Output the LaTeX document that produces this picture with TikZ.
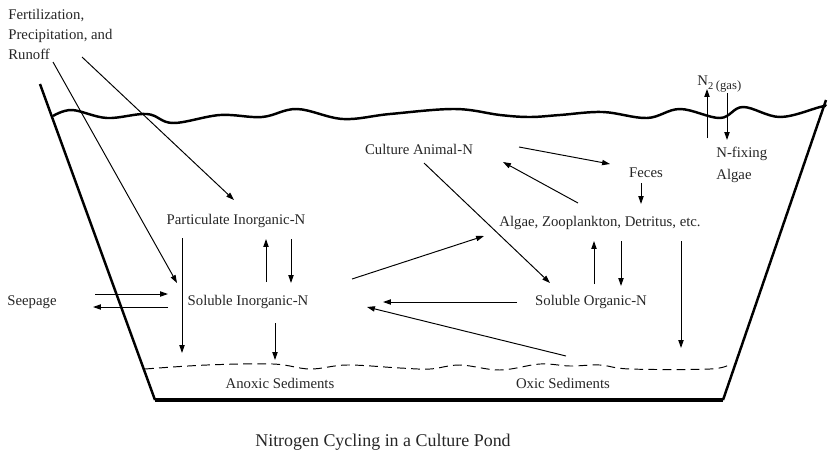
\documentclass[tikz,border=0pt]{standalone}
\usepackage{fontspec}
\setmainfont{Liberation Serif}
\usetikzlibrary{arrows.meta,calc}

\begin{document}
\begin{tikzpicture}[x=0.02cm,y=-0.02cm,
        >={Triangle[length=4.5pt,width=3pt]},
        txt/.style={font=\fontsize{8.4}{11.4}\selectfont, inner sep=0pt, text=black!85},
        flow/.style={->, line width=0.55pt},
        wall/.style={line width=1.4pt},
        sediment/.style={line width=0.55pt, dash pattern=on 5pt off 3pt}]
        \useasboundingbox (0,0) rectangle (828,454);

        % Draw the pond
        \draw[wall] (40,84) -- (155,400);
        \draw[line width=2pt] (155,400) -- (723,400);
        \draw[wall] (723,400) -- (826,100);

        % Water surface
        \draw[wall] plot[smooth, tension=0.6] coordinates {(53,116) (72,110) (107,118) (147,114) (173,123)
            (220,115) (262,117) (297,109) (343,119) (390,114) (455,109) (500,115) (530,117)
            (560,115) (603,112) (647,118) (680,109) (720,118) (743,107) (780,117) (820,107) (826,106)};

        % Sediment surface
        \draw[sediment] plot[smooth, tension=0.6] coordinates {(145,369) (207,365) (273,364) (310,369)
            (347,365) (400,368) (430,369) (460,365) (500,370) (540,364) (570,366) (600,365)
            (630,369) (710,369) (730,364)};

        % Labels
        \node[txt, anchor=west, align=left] (fert) at (8,34) {Fertilization,\\Precipitation, and\\Runoff};
        \node[txt] (partin) at (236,221) {Particulate Inorganic-N};
        \node[txt] (soli) at (248,302) {Soluble Inorganic-N};
        \node[txt] (anox) at (280,383) {Anoxic Sediments};
        \node[txt] (cult) at (419,149) {Culture Animal-N};
        \node[txt] (feces) at (646,173) {Feces};
        \node[txt] (algae) at (600,223) {Algae, Zooplankton, Detritus, etc.};
        \node[txt] (solo) at (591,302) {Soluble Organic-N};
        \node[txt] (oxic) at (563,383) {Oxic Sediments};
        \node[txt] (seep) at (32,302) {Seepage};
        \node[txt, anchor=west, align=left, font=\fontsize{8.4}{12.5}\selectfont] (nfix) at (716,165) {N-fixing\\Algae};
        \node[txt, anchor=west] (ntwo) at (697,84) {N\raisebox{-2.2pt}{\fontsize{6}{7}\selectfont 2 \fontsize{7.2}{8}\selectfont(gas)}};
        \node[font=\fontsize{10.2}{12}\selectfont, inner sep=0pt, text=black!85] (title) at (383,442) {Nitrogen Cycling in a Culture Pond};

        % Inputs and exchange with the outside
        \draw[flow] ($(fert.west)+(45,28)$) -- ($(soli)+(-71,-19)$);
        \draw[flow] ($(fert.west)+(74,23)$) -- ($(partin)+(-2,-21)$);
        \draw[flow] ($(seep)+(63,-8)$) -- ($(soli)+(-80,-8)$);
        \draw[flow] ($(soli)+(-80,5)$) -- ($(seep)+(61,5)$);

        % Inorganic side
        \draw[flow] ($(partin)+(-54,17)$) -- ($(anox)+(-98,-30)$);
        \draw[flow] ($(soli)+(18,-20)$) -- ($(partin)+(30,18)$);
        \draw[flow] ($(partin)+(55,18)$) -- ($(soli)+(43,-19)$);
        \draw[flow] ($(soli)+(27,21)$) -- ($(anox)+(-5,-23)$);
        \draw[flow] ($(soli)+(104,-23)$) -- ($(algae)+(-116,13)$);

        % Organic side
        \draw[flow] ($(solo)+(-74,0)$) -- ($(soli)+(135,0)$);
        \draw[flow] ($(oxic)+(3,-27)$) -- ($(soli)+(119,5)$);
        \draw[flow] ($(cult)+(100,-2)$) -- ($(feces)+(-36,-9)$);
        \draw[flow] ($(algae)+(-22,-20)$) -- ($(cult)+(84,13)$);
        \draw[flow] ($(feces)+(-5,10)$) -- ($(algae)+(41,-19)$);
        \draw[flow] ($(cult)+(5,14)$) -- ($(solo)+(-41,-19)$);
        \draw[flow] ($(solo)+(3,-18)$) -- ($(algae)+(-6,18)$);
        \draw[flow] ($(algae)+(21,18)$) -- ($(solo)+(30,-16)$);
        \draw[flow] ($(algae)+(81,18)$) -- ($(oxic)+(118,-35)$);

        % Nitrogen fixation
        \draw[flow] ($(nfix.west)+(-9,-27)$) -- ($(ntwo.west)+(10,5)$);
        \draw[flow] ($(ntwo.west)+(30,9)$) -- ($(nfix.west)+(11,-25)$);

    \end{tikzpicture}
\end{document}
